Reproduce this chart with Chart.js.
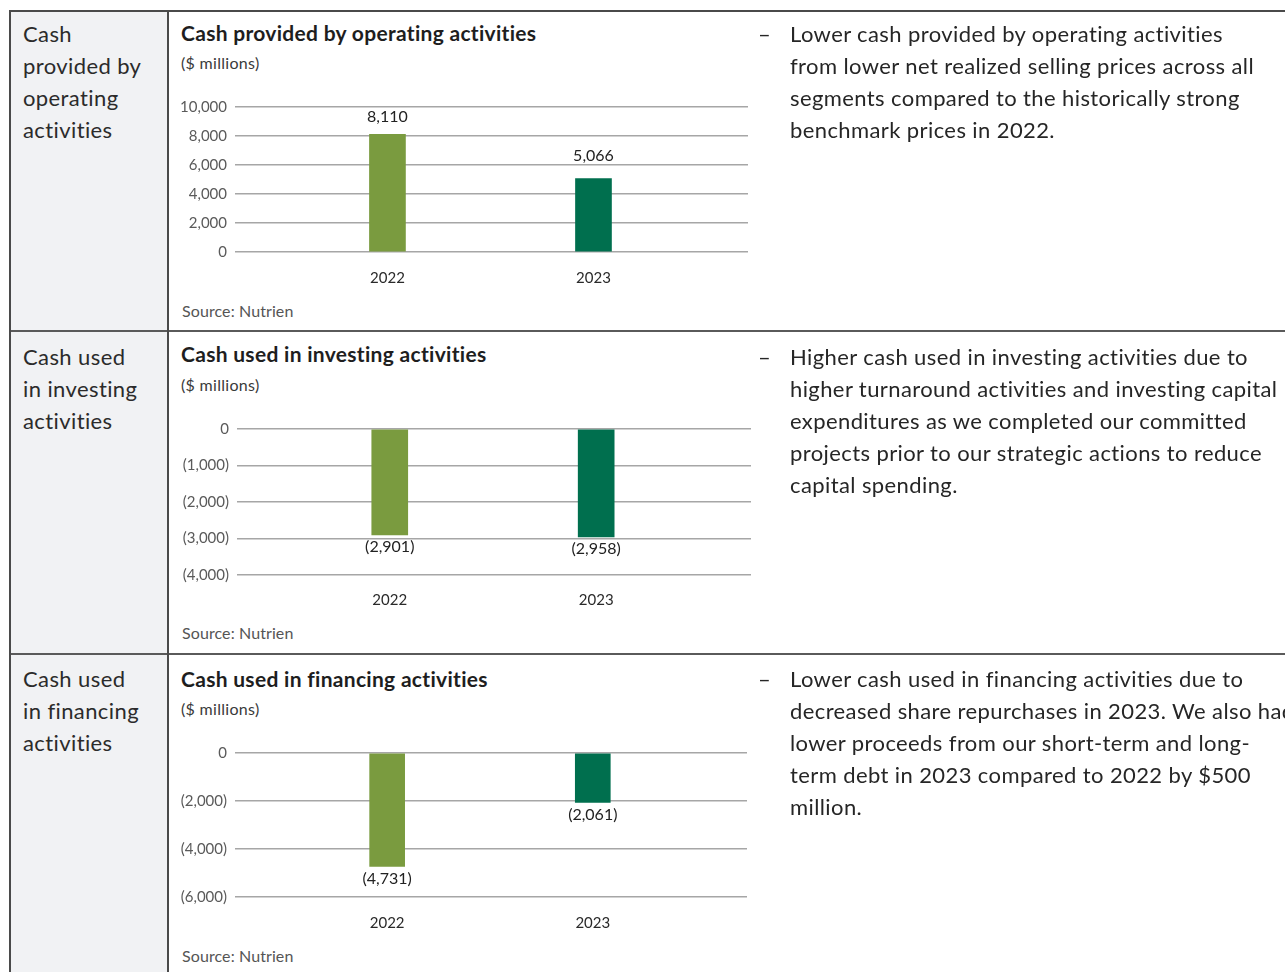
<!DOCTYPE html>
<html>
<head>
<meta charset="utf-8">
<title>Cash flow summary</title>
<script src="https://cdn.jsdelivr.net/npm/chart.js@4.4.1/dist/chart.umd.min.js"></script>
<style>
    body {
        margin: 0;
        width: 1285px;
        height: 972px;
        overflow: hidden;
        background: #fff;
        font-family: 'Lato', sans-serif;
        color: #262626;
        position: relative;
    }
    .abs { position: absolute; }
    .label-cell {
        left: 10px; top: 10px; width: 158px; height: 962px;
        background: #f1f2f4;
    }
    .hline { left: 10px; width: 1275px; height: 2px; background: #4a4a4a; }
    .vline { top: 10px; width: 2px; height: 962px; background: #4a4a4a; }
    .row-label {
        left: 23px; font-size: 22px; line-height: 32px; color: #2b2b2b;
        letter-spacing: 0.4px; white-space: nowrap;
    }
    .chart-title {
        left: 181px; font-size: 21px; line-height: 24px; font-weight: bold; color: #1e1e1e;
        letter-spacing: 0.3px; white-space: nowrap;
    }
    .units { left: 181px; font-size: 16px; line-height: 20px; color: #3a3a3a; letter-spacing: 0.3px; }
    .source { left: 182px; font-size: 16px; line-height: 20px; color: #555; letter-spacing: 0.1px; }
    .note {
        left: 758px; font-size: 22px; line-height: 32px; color: #262626;
        letter-spacing: 0.4px; white-space: nowrap;
    }
    .note .dash { display: inline-block; width: 32px; }
    .note .body { display: inline-block; vertical-align: top; }
    canvas { position: absolute; }
</style>
</head>
<body>

<div class="abs label-cell"></div>
<div class="abs hline" style="top: 10px;"></div>
<div class="abs hline" style="top: 330px; background: #5a5a5a;"></div>
<div class="abs hline" style="top: 653px; background: #5a5a5a;"></div>
<div class="abs vline" style="left: 9px;"></div>
<div class="abs vline" style="left: 167px;"></div>

<!-- operating -->
<div class="abs row-label" style="top: 18px;">Cash<br>provided by<br>operating<br>activities</div>
<div class="abs chart-title" style="top: 21px;">Cash provided by operating activities</div>
<div class="abs units" style="top: 53px;">($ millions)</div>
<canvas id="operatingChart" width="590" height="202" style="left: 170px; top: 90px;"></canvas>
<div class="abs source" style="top: 301px;">Source: Nutrien</div>
<div class="abs note" style="top: 18px;"><span class="dash">–</span><span class="body">Lower cash provided by operating activities<br>from lower net realized selling prices across all<br>segments compared to the historically strong<br>benchmark prices in 2022.</span></div>

<!-- investing -->
<div class="abs row-label" style="top: 341px;">Cash used<br>in investing<br>activities</div>
<div class="abs chart-title" style="top: 342px;">Cash used in investing activities</div>
<div class="abs units" style="top: 375px;">($ millions)</div>
<canvas id="investingChart" width="590" height="203" style="left: 172px; top: 412px;"></canvas>
<div class="abs source" style="top: 623px;">Source: Nutrien</div>
<div class="abs note" style="top: 341px;"><span class="dash">–</span><span class="body">Higher cash used in investing activities due to<br>higher turnaround activities and investing capital<br>expenditures as we completed our committed<br>projects prior to our strategic actions to reduce<br>capital spending.</span></div>

<!-- financing -->
<div class="abs row-label" style="top: 663px;">Cash used<br>in financing<br>activities</div>
<div class="abs chart-title" style="top: 667px;">Cash used in financing activities</div>
<div class="abs units" style="top: 699px;">($ millions)</div>
<canvas id="financingChart" width="590" height="201" style="left: 170px; top: 736px;"></canvas>
<div class="abs source" style="top: 946px;">Source: Nutrien</div>
<div class="abs note" style="top: 663px;"><span class="dash">–</span><span class="body">Lower cash used in financing activities due to<br>decreased share repurchases in 2023. We also had<br>lower proceeds from our short-term and long-<br>term debt in 2023 compared to 2022 by $500<br>million.</span></div>

<script>
// Values in $ millions
const years = ['2022', '2023'];
const operatingValues = [8110, 5066];
const investingValues = [-2901, -2958];
const financingValues = [-4731, -2061];

// y axis tick values for each chart
const operatingTicks = [0, 2000, 4000, 6000, 8000, 10000];
const investingTicks = [-4000, -3000, -2000, -1000, 0];
const financingTicks = [-6000, -4000, -2000, 0];

const barColors = ['#7a9b3f', '#006f4e'];

Chart.defaults.font.family = "'Lato', sans-serif";
Chart.defaults.devicePixelRatio = 1;

// negatives shown in brackets, e.g. (2,901)
function formatMoney(v) {
    const s = Math.abs(v).toLocaleString('en-US');
    return v < 0 ? `(${s})` : s;
}

// draw the value next to each bar end, nudged off a gridline if it would sit on one
const valueLabels = {
    id: 'valueLabels',
    afterDatasetsDraw(chart) {
        const ctx = chart.ctx;
        const ds = chart.data.datasets[0];
        const gridYs = chart.scales.y.ticks.map(t => chart.scales.y.getPixelForValue(t.value));
        ctx.save();
        ctx.font = "16px 'Lato', sans-serif";
        ctx.fillStyle = '#222';
        ctx.textAlign = 'center';
        ctx.textBaseline = 'middle';
        chart.getDatasetMeta(0).data.forEach((bar, i) => {
            const v = ds.data[i].y;
            let y = v >= 0 ? bar.y - 18 : bar.y + 12;
            if (v >= 0) {
                gridYs.forEach(g => {
                    if (g - y > 0 && g - y < 9) y = g - 9;
                });
            }
            ctx.fillText(formatMoney(v), bar.x, y);
        });
        ctx.restore();
    }
};

function makeChart(id, values, ticks, opts) {
    const ctx = document.getElementById(id).getContext('2d');
    return new Chart(ctx, {
        type: 'bar',
        data: {
            datasets: [{
                data: values.map((v, i) => ({ x: i, y: v })),
                backgroundColor: barColors,
                barThickness: opts.barWidth,
            }]
        },
        options: {
            responsive: false,
            animation: false,
            layout: { padding: { top: 16, right: opts.padRight, left: 0, bottom: 0 } },
            plugins: { legend: { display: false }, tooltip: { enabled: false } },
            scales: {
                x: {
                    type: 'linear',
                    offset: false,
                    min: -0.74,
                    max: 1.75,
                    grid: { display: false, drawTicks: false, offset: false },
                    border: { display: false },
                    afterBuildTicks: (scale) => { scale.ticks = years.map((y, i) => ({ value: i })); },
                    afterFit: (scale) => { scale.height = 40; },
                    ticks: {
                        padding: opts.xPad,
                        color: '#2a2a2a',
                        font: { size: 15 },
                        maxRotation: 0,
                        callback: (v) => years[v]
                    }
                },
                y: {
                    min: ticks[0],
                    max: ticks[ticks.length - 1],
                    afterBuildTicks: (scale) => { scale.ticks = ticks.map(v => ({ value: v })); },
                    afterFit: (scale) => { scale.width = 65; },
                    grid: { color: '#a6a6a6', lineWidth: 1.5, drawTicks: false },
                    border: { display: false },
                    ticks: {
                        padding: 8,
                        color: '#5a5a5a',
                        font: { size: 15 },
                        callback: (v) => formatMoney(v)
                    }
                }
            }
        },
        plugins: [valueLabels]
    });
}

makeChart('operatingChart', operatingValues, operatingTicks, { padRight: 12, xPad: 17, barWidth: 36 });
makeChart('investingChart', investingValues, investingTicks, { padRight: 11, xPad: 16, barWidth: 36 });
makeChart('financingChart', financingValues, financingTicks, { padRight: 13, xPad: 17, barWidth: 35 });
</script>
</body>
</html>
